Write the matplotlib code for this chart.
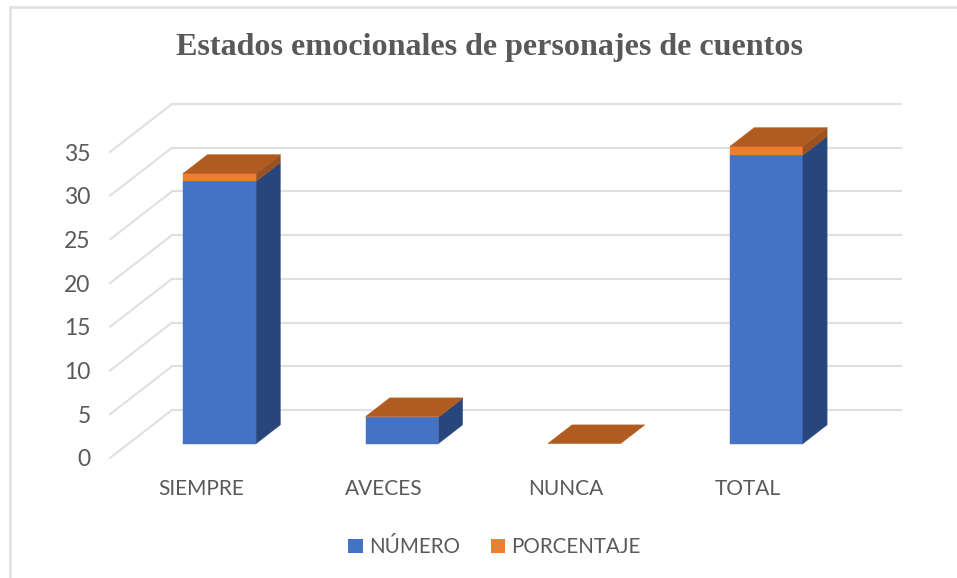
import matplotlib
matplotlib.use("Agg")
import matplotlib.pyplot as plt
import numpy as np
from matplotlib.patches import Polygon, Patch
from matplotlib.lines import Line2D
from matplotlib.transforms import IdentityTransform

categories = ["SIEMPRE", "AVECES", "NUNCA", "TOTAL"]
numero = [30, 3, 0, 33]
porcentaje = [0.91, 0.09, 0, 1.0]
y_ticks = [0, 5, 10, 15, 20, 25, 30, 35]
series_names = ["NÚMERO", "PORCENTAJE"]
title = "Estados emocionales de personajes de cuentos"

W, H = 957, 578
fig = plt.figure(figsize=(W / 100, H / 100), dpi=100, facecolor="white")
ax = fig.add_axes([110 / W, (H - 458) / H, 729 / W, 306 / H])
ax.set_xlim(0, 4)
ax.set_ylim(0, 35)
ax.patch.set_visible(False)
for s in ax.spines.values():
    s.set_visible(False)

DX, DY = 62, 48
TXT = "#595959"
GRID = "#e0e0e0"
UI = "Lato"


def proj(x, y, d):
    p = ax.transData.transform((x, y))
    return (p[0] + d * DX, p[1] + d * DY)


def poly(pts, color, z):
    ax.add_patch(Polygon(pts, closed=True, facecolor=color, edgecolor=color, linewidth=0.3,
                         transform=IdentityTransform(), zorder=z, clip_on=False))


def seg(a, b):
    ax.add_line(Line2D([a[0], b[0]], [a[1], b[1]], color=GRID, lw=1.5,
                       transform=IdentityTransform(), zorder=1, clip_on=False))


for t in y_ticks:
    seg(proj(0, t, 0), proj(0, t, 1))
    seg(proj(0, t, 1), proj(4, t, 1))

D0, D1 = 0.30, 0.69
HW = 0.2
BLUE, BLUE_S = "#4472C4", "#27467C"
OR, OR_S, OR_T = "#ED7D31", "#9C5220", "#B25B20"
for i, (a, b) in enumerate(zip(numero, porcentaje)):
    xl, xr = i + 0.5 - HW, i + 0.5 + HW
    top = a + b
    if a > 0:
        poly([proj(xl, 0, D0), proj(xr, 0, D0), proj(xr, a, D0), proj(xl, a, D0)], BLUE, 3)
        poly([proj(xr, 0, D0), proj(xr, 0, D1), proj(xr, a, D1), proj(xr, a, D0)], BLUE_S, 3)
    if b > 0:
        poly([proj(xl, a, D0), proj(xr, a, D0), proj(xr, top, D0), proj(xl, top, D0)], OR, 4)
        poly([proj(xr, a, D0), proj(xr, a, D1), proj(xr, top, D1), proj(xr, top, D0)], OR_S, 4)
    poly([proj(xl, top, D0), proj(xr, top, D0), proj(xr, top, D1), proj(xl, top, D1)], OR_T, 5)

ax.set_yticks(y_ticks)
ax.set_yticklabels([str(t) for t in y_ticks], family=UI, fontsize=16.5, color=TXT)
ax.tick_params(axis="y", length=0, pad=14)
ax.set_xticks(np.arange(len(categories)) + 0.5)
ax.set_xticklabels(categories, family=UI, fontsize=15, color=TXT)
ax.tick_params(axis="x", length=0, pad=15)

fig.text(490 / W, 1 - 48 / H, title, family="Liberation Serif", fontweight="bold",
         fontsize=23.1, color=TXT, ha="center", va="center")

handles = [Patch(facecolor=BLUE, label=series_names[0]), Patch(facecolor=OR, label=series_names[1])]
fig.legend(handles=handles, loc="center", bbox_to_anchor=(494.5 / W, 1 - 547 / H), ncol=2,
           frameon=False, prop={"family": UI, "size": 14.8}, labelcolor=TXT,
           handlelength=0.7, handleheight=0.7, handletextpad=0.3, columnspacing=1.5)

fig.add_artist(Line2D([9.5 / W, 9.5 / W], [0, 1 - 7 / H], color=GRID, lw=1.8))
fig.add_artist(Line2D([9.5 / W, 1], [1 - 7 / H, 1 - 7 / H], color=GRID, lw=1.8))

fig.savefig("out.png", dpi=100, facecolor="white")
